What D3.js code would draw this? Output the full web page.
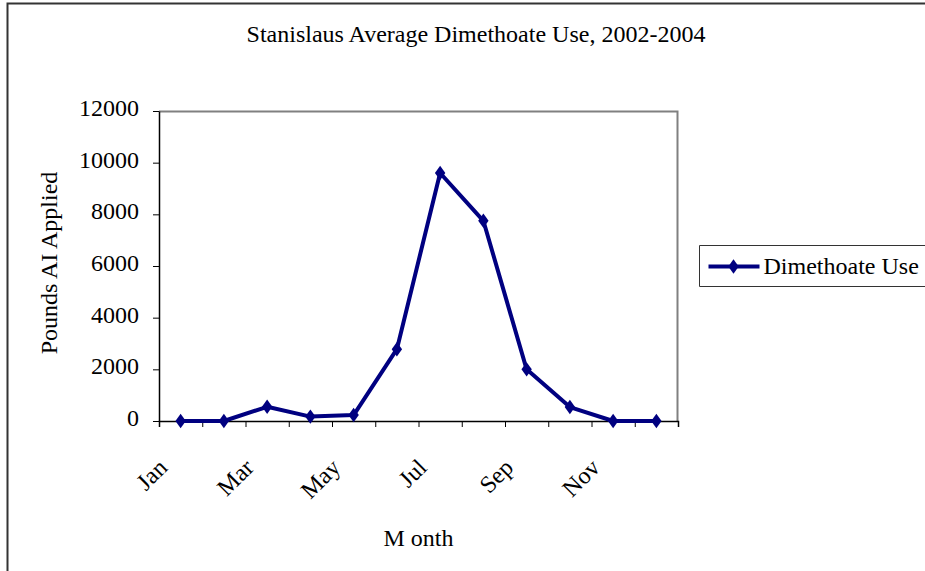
<!DOCTYPE html>
<html>
<head>
<meta charset="utf-8">
<script src="https://cdn.jsdelivr.net/npm/d3@7"></script>
<style>
    html, body { margin: 0; padding: 0; background: #fff; overflow: hidden; }
    svg { display: block; }
    text { font-family: "Liberation Serif", "Times New Roman", serif; fill: #000; }
</style>
</head>
<body>
<div id="linechart"></div>
<script>
// data
var months = ["Jan", "Feb", "Mar", "Apr", "May", "Jun", "Jul", "Aug", "Sep", "Oct", "Nov", "Dec"]
var dimethoateUse = [0, 0, 550, 170, 230, 2780, 9600, 7750, 2000, 540, 0, 0]
var yTicks = [0, 2000, 4000, 6000, 8000, 10000, 12000]
var labelledMonths = ["Jan", "Mar", "May", "Jul", "Sep", "Nov"]
var seriesName = "Dimethoate Use"

var outerWidth = 925,
    outerHeight = 571
var margin = { top: 111, right: 247, bottom: 150, left: 159 }
var innerWidth = outerWidth - margin.left - margin.right
var innerHeight = outerHeight - margin.top - margin.bottom
var lineColor = "#000080"
var fontSize = "24px"

var chartData = months.map(function(m, i) { return { month: m, value: dimethoateUse[i] } })

var svg = d3.select("#linechart")
    .append("svg")
    .attr("width", outerWidth)
    .attr("height", outerHeight)

// outer chart frame, only left and top sides are on the page
svg.append("path")
    .attr("d", "M7.5," + outerHeight + "V3.5H" + outerWidth)
    .attr("fill", "none")
    .attr("stroke", "#333")
    .attr("stroke-width", 2)

svg.append("text")
    .attr("x", 476)
    .attr("y", 42)
    .attr("text-anchor", "middle")
    .attr("font-size", fontSize)
    .text("Stanislaus Average Dimethoate Use, 2002-2004")

// scales work in page coordinates so labels can live at the top level
var xScale = d3.scaleBand().domain(months).range([margin.left, margin.left + innerWidth]).padding(0)
var xEdges = d3.scaleLinear().domain([0, months.length]).range([margin.left, margin.left + innerWidth])
var yScale = d3.scaleLinear().domain([0, 12000]).range([margin.top + innerHeight, margin.top])
var xMid = function(m) { return xScale(m) + xScale.bandwidth() / 2 }

// grey top and right sides of the plot area
svg.append("path")
    .attr("d", "M" + margin.left + "," + (margin.top + 0.5) + "H" + (margin.left + innerWidth - 0.5) + "V" + (margin.top + innerHeight))
    .attr("fill", "none")
    .attr("stroke", "#808080")
    .attr("stroke-width", 2)

// x axis: ticks sit between the categories
var xAxis = svg.append("g")
    .attr("transform", "translate(0," + (margin.top + innerHeight) + ")")
    .call(d3.axisBottom(xEdges).ticks(months.length).tickFormat("").tickSizeOuter(0).tickSize(6))
xAxis.select(".domain").attr("stroke", "#000").attr("stroke-width", 1.5)
xAxis.selectAll(".tick line").attr("stroke", "#000")

// every other month gets a slanted label
labelledMonths.forEach(function(m) {
    svg.append("text")
        .attr("font-size", fontSize)
        .attr("text-anchor", "end")
        .attr("transform", "translate(" + (xMid(m) - 12) + "," + (margin.top + innerHeight + 48) + ") rotate(-45)")
        .text(m)
})

var yAxis = svg.append("g")
    .attr("transform", "translate(" + margin.left + ",0)")
    .call(d3.axisLeft(yScale).tickValues(yTicks).tickSize(6).tickSizeOuter(0).tickFormat(""))
yAxis.select(".domain").attr("stroke", "#000").attr("stroke-width", 1.5)
yAxis.selectAll(".tick line").attr("stroke", "#000")

yTicks.forEach(function(t) {
    svg.append("text")
        .attr("x", margin.left - 20)
        .attr("y", yScale(t) + 5)
        .attr("text-anchor", "end")
        .attr("font-size", fontSize)
        .text(String(t))
})

// axis titles
svg.append("text")
    .attr("x", margin.left + innerWidth / 2)
    .attr("y", 546)
    .attr("text-anchor", "middle")
    .attr("font-size", fontSize)
    .text("M onth")

svg.append("text")
    .attr("transform", "translate(57," + (margin.top + innerHeight / 2 - 3) + ") rotate(-90)")
    .attr("text-anchor", "middle")
    .attr("font-size", fontSize)
    .text("Pounds AI Applied")

// the series
var line = d3.line()
    .x(function(d) { return xMid(d.month) })
    .y(function(d) { return yScale(d.value) })
    .curve(d3.curveLinear)

svg.append("path")
    .datum(chartData)
    .attr("d", line)
    .attr("fill", "none")
    .attr("stroke", lineColor)
    .attr("stroke-width", 4)
    .attr("stroke-linejoin", "round")

var diamond = d3.symbol().type(d3.symbolDiamond).size(60)

svg.selectAll(".marker")
    .data(chartData)
    .enter()
    .append("path")
    .attr("class", "marker")
    .attr("d", diamond)
    .attr("transform", function(d) {
        return "translate(" + xMid(d.month) + "," + yScale(d.value) + ") scale(1.25,1)"
    })
    .attr("fill", lineColor)

// legend, box runs on past the right edge
var legendX = 699.5,
    legendY = 245.5
svg.append("path")
    .attr("d", "M" + outerWidth + "," + legendY + "H" + legendX + "V" + (legendY + 41) + "H" + outerWidth)
    .attr("fill", "#fff")
    .attr("stroke", "#333")
    .attr("stroke-width", 1)
svg.append("line")
    .attr("x1", legendX + 9)
    .attr("x2", legendX + 60)
    .attr("y1", legendY + 21)
    .attr("y2", legendY + 21)
    .attr("stroke", lineColor)
    .attr("stroke-width", 4)
svg.append("path")
    .attr("d", diamond)
    .attr("transform", "translate(" + (legendX + 34) + "," + (legendY + 21) + ") scale(1.25,1)")
    .attr("fill", lineColor)
svg.append("text")
    .attr("x", legendX + 64)
    .attr("y", legendY + 28)
    .attr("font-size", fontSize)
    .text(seriesName)
</script>
</body>
</html>
